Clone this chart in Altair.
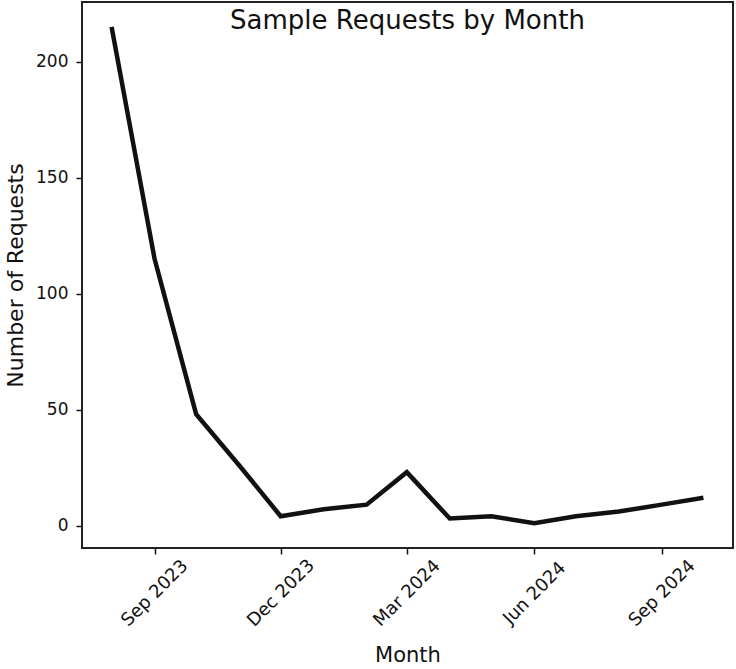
import altair as alt
import pandas as pd

# Monthly sample request counts
months = [
    "2023-08-01", "2023-09-01", "2023-10-01", "2023-11-01", "2023-12-01",
    "2024-01-01", "2024-02-01", "2024-03-01", "2024-04-01", "2024-05-01",
    "2024-06-01", "2024-07-01", "2024-08-01", "2024-09-01", "2024-10-01",
]
requests = [215, 115, 48, 26, 4, 7, 9, 23, 3, 4, 1, 4, 6, 9, 12]

# Axis tick positions (quarterly)
tick_dates = [(2023, 9), (2023, 12), (2024, 3), (2024, 6), (2024, 9)]
y_ticks = [0, 50, 100, 150, 200]

title_text = "Sample Requests by Month"

df = pd.DataFrame({"month": months, "requests": requests})

FONT = "DejaVu Sans"

x_enc = alt.X(
    "month:T",
    title="Month",
    scale=alt.Scale(
        type="utc",
        domain=[
            alt.DateTime(year=2023, month=7, date=10, hours=15, minutes=36, utc=True),
            alt.DateTime(year=2024, month=10, date=22, hours=8, minutes=24, utc=True),
        ],
        nice=False,
    ),
    axis=alt.Axis(
        values=[alt.DateTime(year=y, month=m, date=1, utc=True) for y, m in tick_dates],
        format="%b %Y",
        labelAngle=-45,
        labelAlign="center",
        labelBaseline="middle",
        labelPadding=39,
        labelFontSize=18,
        titleFontSize=21,
        titlePadding=15,
        grid=False,
        domain=False,
        tickSize=6,
        tickWidth=1.5,
        tickColor="#111",
        labelColor="#111",
        titleColor="#111",
        labelFont=FONT,
        titleFont=FONT,
        titleFontWeight="normal",
    ),
)

y_enc = alt.Y(
    "requests:Q",
    title="Number of Requests",
    scale=alt.Scale(domain=[-9.7, 225.7], nice=False, zero=False),
    axis=alt.Axis(
        values=y_ticks,
        labelFontSize=17,
        titleFontSize=22,
        titlePadding=8,
        labelPadding=8,
        grid=False,
        domain=False,
        tickSize=6,
        tickWidth=1.5,
        tickColor="#111",
        labelColor="#111",
        titleColor="#111",
        labelFont=FONT,
        titleFont=FONT,
        titleFontWeight="normal",
    ),
)

line = (
    alt.Chart(df)
    .mark_line(color="#111111", strokeWidth=4.5, strokeJoin="miter", clip=True)
    .encode(x=x_enc, y=y_enc)
)

title = (
    alt.Chart(pd.DataFrame({"t": [title_text]}))
    .mark_text(font=FONT, fontSize=26, color="#111", align="center", baseline="alphabetic")
    .encode(text="t:N", x=alt.value(325.5), y=alt.value(27))
)

chart = (
    alt.layer(line, title)
    .properties(
        width=651,
        height=546,
        autosize=alt.AutoSizeParams(type="none"),
        padding={"left": 82, "top": 2, "right": 3, "bottom": 121},
    )
    .configure(background="white")
    .configure_view(stroke="#222222", strokeWidth=2)
)

chart.save("out.html", embed_options={"renderer": "svg", "actions": False})
